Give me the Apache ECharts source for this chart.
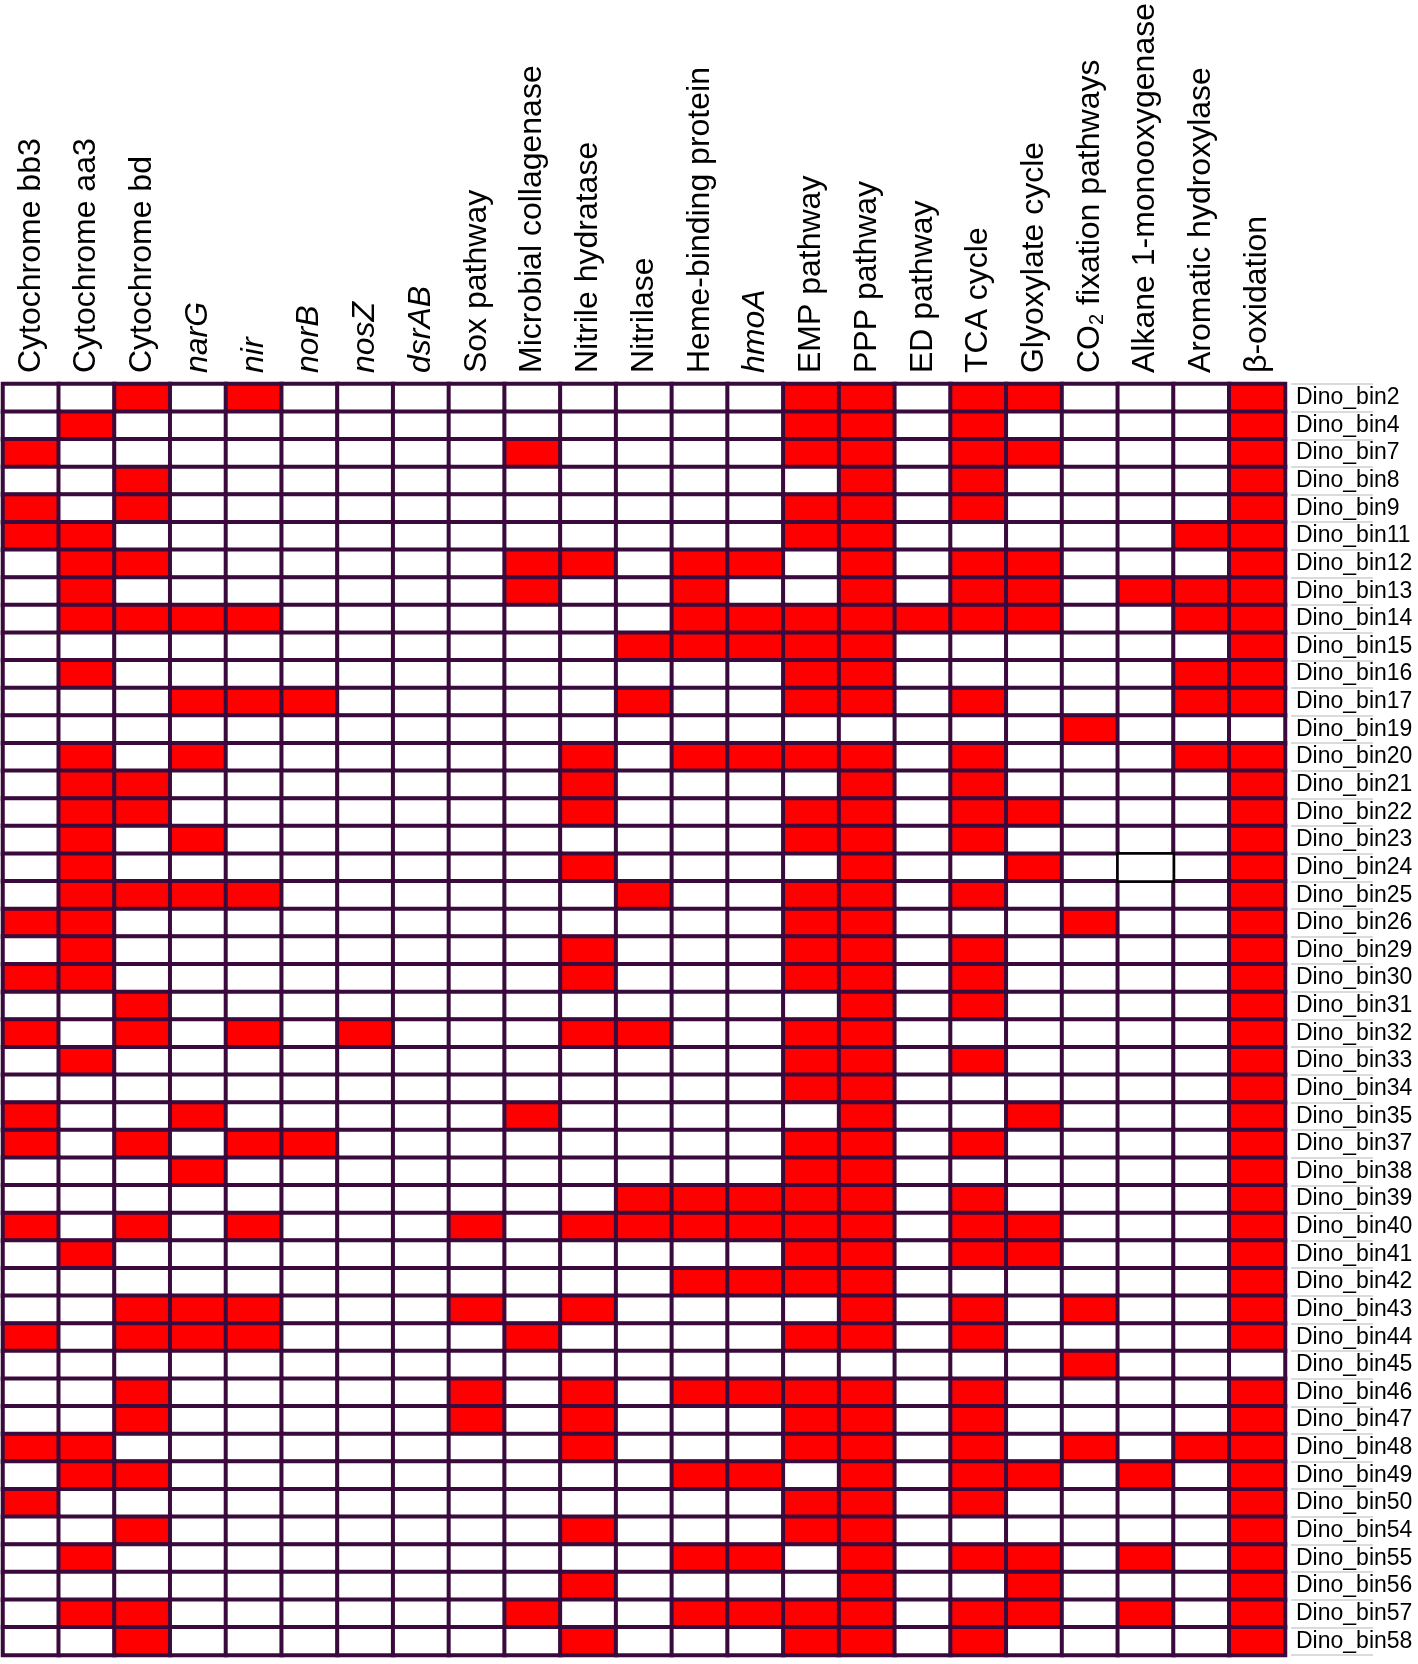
<!DOCTYPE html>
<html>
<head>
<meta charset="utf-8">
<script src="https://cdn.jsdelivr.net/npm/echarts@6/dist/echarts.min.js"></script>
<style>
  html, body { margin: 0; padding: 0; background: #ffffff; }
  #chart { width: 1418px; height: 1664px; }
</style>
</head>
<body>
<div id="chart"></div>
<script>
const functions = [
  'Cytochrome bb3', 'Cytochrome aa3', 'Cytochrome bd', 'narG', 'nir', 'norB', 'nosZ', 'dsrAB',
  'Sox pathway', 'Microbial collagenase', 'Nitrile hydratase', 'Nitrilase', 'Heme-binding protein',
  'hmoA', 'EMP pathway', 'PPP pathway', 'ED pathway', 'TCA cycle', 'Glyoxylate cycle',
  'CO2 fixation pathways', 'Alkane 1-monooxygenase', 'Aromatic hydroxylase', 'β-oxidation'
];
const italicNames = ['narG', 'nir', 'norB', 'nosZ', 'dsrAB', 'hmoA'];
const bins = [
  'Dino_bin2', 'Dino_bin4', 'Dino_bin7', 'Dino_bin8', 'Dino_bin9', 'Dino_bin11', 'Dino_bin12',
  'Dino_bin13', 'Dino_bin14', 'Dino_bin15', 'Dino_bin16', 'Dino_bin17', 'Dino_bin19', 'Dino_bin20',
  'Dino_bin21', 'Dino_bin22', 'Dino_bin23', 'Dino_bin24', 'Dino_bin25', 'Dino_bin26', 'Dino_bin29',
  'Dino_bin30', 'Dino_bin31', 'Dino_bin32', 'Dino_bin33', 'Dino_bin34', 'Dino_bin35', 'Dino_bin37',
  'Dino_bin38', 'Dino_bin39', 'Dino_bin40', 'Dino_bin41', 'Dino_bin42', 'Dino_bin43', 'Dino_bin44',
  'Dino_bin45', 'Dino_bin46', 'Dino_bin47', 'Dino_bin48', 'Dino_bin49', 'Dino_bin50', 'Dino_bin54',
  'Dino_bin55', 'Dino_bin56', 'Dino_bin57', 'Dino_bin58'
];
// presence (1) / absence (0), one row per bin, columns in the order of `functions`
const presence = [
  [0,0,1,0,1,0,0,0,0,0,0,0, 0,0,1,1,0,1,1,0,0,0,1], // bin2
  [0,1,0,0,0,0,0,0,0,0,0,0, 0,0,1,1,0,1,0,0,0,0,1], // bin4
  [1,0,0,0,0,0,0,0,0,1,0,0, 0,0,1,1,0,1,1,0,0,0,1], // bin7
  [0,0,1,0,0,0,0,0,0,0,0,0, 0,0,0,1,0,1,0,0,0,0,1], // bin8
  [1,0,1,0,0,0,0,0,0,0,0,0, 0,0,1,1,0,1,0,0,0,0,1], // bin9
  [1,1,0,0,0,0,0,0,0,0,0,0, 0,0,1,1,0,0,0,0,0,1,1], // bin11
  [0,1,1,0,0,0,0,0,0,1,1,0, 1,1,0,1,0,1,1,0,0,0,1], // bin12
  [0,1,0,0,0,0,0,0,0,1,0,0, 1,0,0,1,0,1,1,0,1,1,1], // bin13
  [0,1,1,1,1,0,0,0,0,0,0,0, 1,1,1,1,1,1,1,0,0,1,1], // bin14
  [0,0,0,0,0,0,0,0,0,0,0,1, 1,1,1,1,0,0,0,0,0,0,1], // bin15
  [0,1,0,0,0,0,0,0,0,0,0,0, 0,0,1,1,0,0,0,0,0,1,1], // bin16
  [0,0,0,1,1,1,0,0,0,0,0,1, 0,0,1,1,0,1,0,0,0,1,1], // bin17
  [0,0,0,0,0,0,0,0,0,0,0,0, 0,0,0,0,0,0,0,1,0,0,0], // bin19
  [0,1,0,1,0,0,0,0,0,0,1,0, 1,1,1,1,0,1,0,0,0,1,1], // bin20
  [0,1,1,0,0,0,0,0,0,0,1,0, 0,0,0,1,0,1,0,0,0,0,1], // bin21
  [0,1,1,0,0,0,0,0,0,0,1,0, 0,0,1,1,0,1,1,0,0,0,1], // bin22
  [0,1,0,1,0,0,0,0,0,0,0,0, 0,0,1,1,0,1,0,0,0,0,1], // bin23
  [0,1,0,0,0,0,0,0,0,0,1,0, 0,0,0,1,0,0,1,0,0,0,1], // bin24
  [0,1,1,1,1,0,0,0,0,0,0,1, 0,0,1,1,0,1,0,0,0,0,1], // bin25
  [1,1,0,0,0,0,0,0,0,0,0,0, 0,0,1,1,0,0,0,1,0,0,1], // bin26
  [0,1,0,0,0,0,0,0,0,0,1,0, 0,0,1,1,0,1,0,0,0,0,1], // bin29
  [1,1,0,0,0,0,0,0,0,0,1,0, 0,0,1,1,0,1,0,0,0,0,1], // bin30
  [0,0,1,0,0,0,0,0,0,0,0,0, 0,0,0,1,0,1,0,0,0,0,1], // bin31
  [1,0,1,0,1,0,1,0,0,0,1,1, 0,0,1,1,0,0,0,0,0,0,1], // bin32
  [0,1,0,0,0,0,0,0,0,0,0,0, 0,0,1,1,0,1,0,0,0,0,1], // bin33
  [0,0,0,0,0,0,0,0,0,0,0,0, 0,0,1,1,0,0,0,0,0,0,1], // bin34
  [1,0,0,1,0,0,0,0,0,1,0,0, 0,0,0,1,0,0,1,0,0,0,1], // bin35
  [1,0,1,0,1,1,0,0,0,0,0,0, 0,0,1,1,0,1,0,0,0,0,1], // bin37
  [0,0,0,1,0,0,0,0,0,0,0,0, 0,0,1,1,0,0,0,0,0,0,1], // bin38
  [0,0,0,0,0,0,0,0,0,0,0,1, 1,1,1,1,0,1,0,0,0,0,1], // bin39
  [1,0,1,0,1,0,0,0,1,0,1,1, 1,1,1,1,0,1,1,0,0,0,1], // bin40
  [0,1,0,0,0,0,0,0,0,0,0,0, 0,0,1,1,0,1,1,0,0,0,1], // bin41
  [0,0,0,0,0,0,0,0,0,0,0,0, 1,1,1,1,0,0,0,0,0,0,1], // bin42
  [0,0,1,1,1,0,0,0,1,0,1,0, 0,0,0,1,0,1,0,1,0,0,1], // bin43
  [1,0,1,1,1,0,0,0,0,1,0,0, 0,0,1,1,0,1,0,0,0,0,1], // bin44
  [0,0,0,0,0,0,0,0,0,0,0,0, 0,0,0,0,0,0,0,1,0,0,0], // bin45
  [0,0,1,0,0,0,0,0,1,0,1,0, 1,1,1,1,0,1,0,0,0,0,1], // bin46
  [0,0,1,0,0,0,0,0,1,0,1,0, 0,0,1,1,0,1,0,0,0,0,1], // bin47
  [1,1,0,0,0,0,0,0,0,0,1,0, 0,0,1,1,0,1,0,1,0,1,1], // bin48
  [0,1,1,0,0,0,0,0,0,0,0,0, 1,1,0,1,0,1,1,0,1,0,1], // bin49
  [1,0,0,0,0,0,0,0,0,0,0,0, 0,0,1,1,0,1,0,0,0,0,1], // bin50
  [0,0,1,0,0,0,0,0,0,0,1,0, 0,0,1,1,0,0,0,0,0,0,1], // bin54
  [0,1,0,0,0,0,0,0,0,0,0,0, 1,1,0,1,0,1,1,0,1,0,1], // bin55
  [0,0,0,0,0,0,0,0,0,0,1,0, 0,0,0,1,0,0,1,0,0,0,1], // bin56
  [0,1,1,0,0,0,0,0,0,1,0,0, 1,1,1,1,0,1,1,0,1,0,1], // bin57
  [0,0,1,0,0,0,0,0,0,0,1,0, 0,0,1,1,0,1,0,0,0,0,1]  // bin58
];
// the single cell outlined in black in the original figure
const highlighted = { bin: 'Dino_bin24', func: 'Alkane 1-monooxygenase' };

const FONT = '"Liberation Sans", Arial, Helvetica, sans-serif';
const GRID_LINE = '#3a0a3c';

const cells = [];
let highlightCell = null;
presence.forEach((row, yi) => {
  row.forEach((v, xi) => {
    if (bins[yi] === highlighted.bin && functions[xi] === highlighted.func) {
      highlightCell = { value: [xi, yi, v], itemStyle: { borderColor: '#000000', borderWidth: 2.5 } };
    } else {
      cells.push({ value: [xi, yi, v] });
    }
  });
});
if (highlightCell) cells.push(highlightCell); // drawn last so its outline stays visible

const chart = echarts.init(document.getElementById('chart'), null, { renderer: 'canvas' });
chart.setOption({
  animation: false,
  backgroundColor: '#ffffff',
  grid: {
    left: 3, top: 381, width: 1282, height: 1274,
    show: true, borderColor: GRID_LINE, borderWidth: 2.5, backgroundColor: 'transparent'
  },
  xAxis: {
    type: 'category',
    position: 'top',
    data: functions,
    splitArea: { show: false },
    axisLine: { show: false },
    axisTick: { show: false },
    axisLabel: {
      interval: 0,
      rotate: -90,
      margin: 11,
      fontFamily: FONT,
      fontSize: 32,
      color: '#000',
      formatter: function (v) {
        if (italicNames.indexOf(v) >= 0) return '{i|' + v + '}';
        if (v.indexOf('CO2') === 0) return '{n|CO}{sub|2}{n|' + v.slice(3) + '}';
        return '{n|' + v + '}';
      },
      rich: {
        n: { fontFamily: FONT, fontSize: 32, color: '#000' },
        i: { fontFamily: FONT, fontSize: 32, color: '#000', fontStyle: 'italic' },
        sub: { fontFamily: FONT, fontSize: 20, color: '#000', padding: [16, 0, 0, 0] }
      }
    }
  },
  yAxis: {
    type: 'category',
    position: 'right',
    inverse: true,
    offset: 6,
    data: bins,
    splitArea: { show: false },
    axisLine: { show: false },
    axisTick: { show: true, length: 82, lineStyle: { color: '#cfcfcf', width: 1.5 } },
    axisLabel: {
      interval: 0,
      margin: 5,
      fontFamily: FONT,
      fontSize: 23,
      color: '#000'
    }
  },
  visualMap: {
    show: false,
    type: 'piecewise',
    dimension: 2,
    pieces: [
      { value: 0, color: '#ffffff' },
      { value: 1, color: '#ff0000' }
    ]
  },
  series: [{
    type: 'heatmap',
    data: cells,
    itemStyle: { borderColor: GRID_LINE, borderWidth: 4 },
    emphasis: { disabled: true }
  }]
});
</script>
</body>
</html>
